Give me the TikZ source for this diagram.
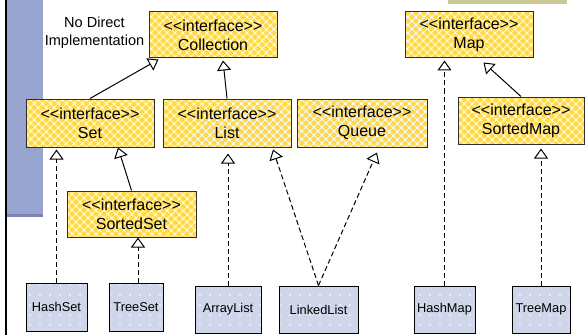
\documentclass[tikz,border=0pt]{standalone}
\usepackage{fontspec}
\setmainfont{Liberation Sans}
\usetikzlibrary{arrows.meta,patterns.meta,calc}

\definecolor{ifill}{RGB}{255,218,72}
\definecolor{cfill}{RGB}{208,214,234}
\definecolor{sidebar}{RGB}{152,164,208}
\definecolor{sidebardk}{RGB}{122,132,178}
\definecolor{tanbar}{RGB}{204,201,153}
\definecolor{edge}{RGB}{45,45,45}

\newcommand{\stereo}{<{}<interface>{}>}

\tikzset{
  iface/.style={draw=edge, line width=0.75pt, inner sep=0pt, align=center,
    preaction={fill=ifill},
    preaction={pattern={Hatch[angle=45,distance=4pt,line width=0.75pt]}, pattern color=white},
    font=\fontsize{12}{14.25}\selectfont},
  cls/.style={draw=black, line width=0.75pt, inner sep=0pt, align=center,
    preaction={fill=cfill},
    preaction={pattern={Dots[distance=7.5pt,radius=0.7pt]}, pattern color=white},
    font=\fontsize{9.6}{11}\selectfont},
  note/.style={align=center, font=\fontsize{10.9}{13.5}\selectfont},
  gen/.style={draw=black, line width=0.75pt, -{Triangle[open,width=10.5pt,length=7.5pt]}},
  real/.style={gen, dash pattern=on 3.75pt off 2.25pt}
}

\begin{document}
\begin{tikzpicture}[x=0.75pt,y=-0.75pt]
\useasboundingbox (0,0) rectangle (585,335);
% background decoration
\fill[black] (4.5,0) rectangle (7,335);
\fill[sidebar] (7,0) rectangle (43,217);
\fill[sidebardk] (7,214) rectangle (43,217);
\fill[tanbar] (448,0) rectangle (567,4.5);

% interfaces
\node[iface, minimum width=96pt, minimum height=34.5pt] (Collection) at (213,35) {\stereo\\Collection};
\node[iface, minimum width=96pt, minimum height=34.5pt] (Map) at (469,35) {\stereo\\Map};
\node[iface, minimum width=96pt, minimum height=36pt] (Set) at (90,123) {\stereo\\Set};
\node[iface, minimum width=96pt, minimum height=36pt] (List) at (227,123) {\stereo\\List};
\node[iface, minimum width=97.5pt, minimum height=36pt] (Queue) at (362,123) {\stereo\\Queue};
\node[iface, minimum width=94.5pt, minimum height=35.25pt] (SortedMap) at (521,120.5) {\stereo\\SortedMap};
\node[iface, minimum width=96.75pt, minimum height=34.5pt] (SortedSet) at (131.5,214) {\stereo\\SortedSet};

% classes
\node[cls, minimum width=45.75pt, minimum height=36pt] (HashSet) at (56.5,307) {HashSet};
\node[cls, minimum width=40.5pt, minimum height=36pt] (TreeSet) at (136,307) {TreeSet};
\node[cls, minimum width=49.5pt, minimum height=35.25pt] (ArrayList) at (228,309.5) {ArrayList};
\node[cls, minimum width=59.25pt, minimum height=35.25pt] (LinkedList) at (318.5,309.5) {LinkedList};
\node[cls, minimum width=45.75pt, minimum height=35.25pt] (HashMap) at (444.5,309.5) {HashMap};
\node[cls, minimum width=43.5pt, minimum height=35.25pt] (TreeMap) at (541,309.5) {TreeMap};

% note
\node[note] (nodirect) at (94.5,33) {No Direct\\Implementation};

% generalisations
\draw[gen] (Set.north) -- ($(Collection.south west)+(10,1)$);
\draw[gen] (List.north) -- ($(Collection.south)+(10,2)$);
\draw[gen] (SortedSet.north) -- ($(Set.south)+(28,0)$);
\draw[gen] (SortedMap.north) -- ($(Map.south east)+(-50,4)$);

% realisations
\draw[real, shorten >=1.5pt] (HashSet.north) -- (HashSet.north |- Set.south);
\draw[real] ([xshift=1.5pt]TreeSet.north) -- ([xshift=1.5pt]TreeSet.north |- SortedSet.south);
\draw[real, shorten >=4.5pt] (ArrayList.north) -- (ArrayList.north |- List.south);
\draw[real] (LinkedList.north) -- ($(List.south)+(46,2)$);
\draw[real] (LinkedList.north) -- ($(Queue.south)+(15,5)$);
\draw[real, shorten >=1.5pt] (HashMap.north) -- (HashMap.north |- Map.south);
\draw[real, shorten >=3pt] (TreeMap.north) -- (TreeMap.north |- SortedMap.south);
\end{tikzpicture}
\end{document}
